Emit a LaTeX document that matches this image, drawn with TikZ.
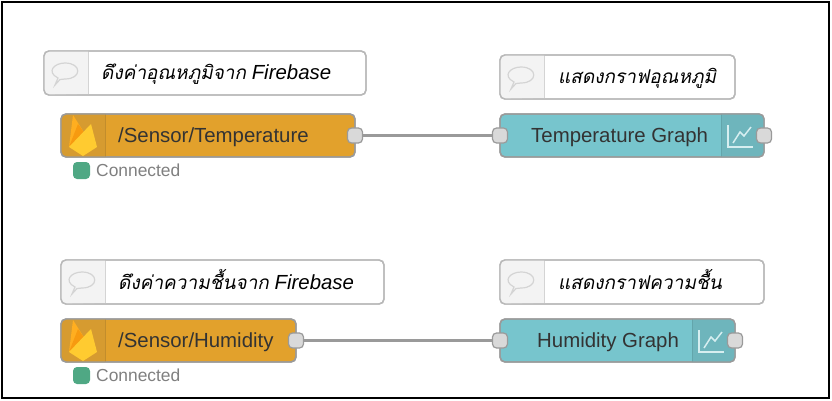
\documentclass[tikz,border=0pt]{standalone}
\usepackage{fontspec}
\setmainfont{Liberation Sans}
\newfontfamily\thaifont[Script=Thai,FakeSlant=0.2]{Loma}
\usetikzlibrary{positioning, calc}

\definecolor{firefill}{HTML}{E2A12C}
\definecolor{firetab}{HTML}{D69B30}
\definecolor{fireline}{HTML}{C28D2C}
\definecolor{graphfill}{HTML}{77C5CD}
\definecolor{graphtab}{HTML}{6EB5BC}
\definecolor{graphline}{HTML}{63A5AB}
\definecolor{edgegrey}{HTML}{9A9A9A}
\definecolor{notegrey}{HTML}{B8B8B8}
\definecolor{notetab}{HTML}{F3F3F3}
\definecolor{portfill}{HTML}{D9D9D9}
\definecolor{okgreen}{HTML}{4FA884}
\definecolor{flameyellow}{HTML}{FFCB30}
\definecolor{flameorange}{HTML}{FFAE20}
\definecolor{flamedark}{HTML}{F79A10}

\tikzset{
    flowbody/.style={draw=edgegrey, line width=1.4pt, rounded corners=5pt, outer sep=0pt, minimum height=43pt, inner sep=0pt},
    firebody/.style={flowbody, fill=firefill},
    graphbody/.style={flowbody, fill=graphfill},
    notebody/.style={flowbody, draw=notegrey, fill=white, minimum height=44pt},
    port/.style={draw=edgegrey, line width=1.2pt, fill=portfill, rounded corners=4pt, minimum size=15pt, inner sep=0pt, outer sep=0pt},
    wire/.style={draw=edgegrey, line width=3.4pt},
    flowtext/.style={inner sep=0pt, anchor=west, text height=16pt, text depth=2pt, font=\fontsize{20.4}{22}\selectfont, text=black!80},
    notetext/.style={flowtext, text=black},
    statusdot/.style={fill=okgreen, rounded corners=4pt, minimum size=17pt, inner sep=0pt, outer sep=0pt},
    statustext/.style={inner sep=0pt, anchor=west, font=\fontsize{17.4}{20}\selectfont, text=black!50},
    flame/.pic={
        \fill[flameorange] (8,33) -- (12,1) -- (24,20) -- cycle;
        \fill[flamedark] (8,33) -- (17,10) -- (24,20) -- cycle;
        \fill[flameyellow] (8,33) -- (30,10) -- (36,33) -- (22,42) -- cycle;
    },
    chart/.pic={
        \draw[white!70!graphfill, line width=1.5pt] (7,11) -- (7,33) -- (32,33);
        \draw[white!70!graphfill, line width=1.5pt] (12,29) -- (19,18) -- (23,22) -- (30,13);
    },
    bubble/.pic={
        \draw[notegrey!60, line width=1.2pt] (11,34) -- (14,27) .. controls (2,21) and (10,12) .. (21,12) .. controls (38,12) and (38,28) .. (21,28) .. controls (19,28) and (18,28) .. (16,28.5) -- cycle;
    }
}

% tab on the left or right end of a body: node, fill, divider and outline colour
\newcommand{\lefttab}[4]{
    \path[fill=#2] (#1.west) [rounded corners=5pt] -- (#1.north west) [sharp corners] -- ++(44,0) -- ++(0,43) [rounded corners=5pt] -- (#1.south west) -- cycle;
    \draw[#3, line width=1pt] ($(#1.north west)+(44,0)$) -- ($(#1.south west)+(44,0)$);
    \draw[#4, line width=1.4pt, rounded corners=5pt] (#1.north west) rectangle (#1.south east);
}
\newcommand{\righttab}[4]{
    \path[fill=#2] (#1.east) [rounded corners=5pt] -- (#1.north east) [sharp corners] -- ++(-43,0) -- ++(0,43) [rounded corners=5pt] -- (#1.south east) -- cycle;
    \draw[#3, line width=1pt] ($(#1.north east)+(-43,0)$) -- ($(#1.south east)+(-43,0)$);
    \draw[#4, line width=1.4pt, rounded corners=5pt] (#1.north east) rectangle (#1.south west);
}
\newcommand{\thaitext}[1]{{\thaifont\fontsize{19}{22}\selectfont #1}}

\begin{document}
\begin{tikzpicture}[x=1pt, y=-1pt, node distance=19pt]
\useasboundingbox (0,0) rectangle (832,401);
\fill[white] (0,0) rectangle (832,401);
\draw[black, line width=2pt] (2,2) rectangle (829,398);

% bodies
\node[firebody, minimum width=294pt, anchor=north west] (fire-temp) at (61,114) {};
\node[firebody, minimum width=235pt, anchor=north west] (fire-hum) at (61,319) {};
\node[graphbody, minimum width=264pt, anchor=north west] (graph-temp) at (500,114) {};
\node[graphbody, minimum width=235pt, anchor=north west] (graph-hum) at (500,319) {};

% comments
\node[notebody, minimum width=322pt, above = of fire-temp.north west, anchor=south west, xshift=-17pt] (note-fire-temp) {};
\node[notebody, minimum width=323pt, above = 15pt of fire-hum.north west, anchor=south west] (note-fire-hum) {};
\node[notebody, minimum width=235pt, above = 15pt of graph-temp.north west, anchor=south west] (note-graph-temp) {};
\node[notebody, minimum width=264pt, above = 15pt of graph-hum.north west, anchor=south west] (note-graph-hum) {};

\lefttab{fire-temp}{firetab}{fireline}{edgegrey}
\lefttab{fire-hum}{firetab}{fireline}{edgegrey}
\righttab{graph-temp}{graphtab}{graphline}{edgegrey}
\righttab{graph-hum}{graphtab}{graphline}{edgegrey}
\foreach \n in {note-fire-temp, note-fire-hum, note-graph-temp, note-graph-hum} {
    \lefttab{\n}{notetab}{notegrey!60}{notegrey}
    \pic at (\n.north west) {bubble};
}
\pic at (fire-temp.north west) {flame};
\pic at (fire-hum.north west) {flame};
\pic at ($(graph-temp.north east)+(-43,0)$) {chart};
\pic at ($(graph-hum.north east)+(-43,0)$) {chart};

% texts
\node[flowtext, right = 57pt of fire-temp.west] (text-fire-temp) {/Sensor/Temperature};
\node[flowtext, right = 57pt of fire-hum.west] (text-fire-hum) {/Sensor/Humidity};
\node[flowtext, right = 31pt of graph-temp.west] (text-graph-temp) {Temperature Graph};
\node[flowtext, right = 37pt of graph-hum.west] (text-graph-hum) {Humidity Graph};
\node[notetext, right = 57pt of note-fire-temp.west] (text-note-fire-temp) {\thaitext{ดึงค่าอุณหภูมิจาก} \textit{Firebase}};
\node[notetext, right = 57pt of note-fire-hum.west] (text-note-fire-hum) {\thaitext{ดึงค่าความชื้นจาก} \textit{Firebase}};
\node[notetext, right = 58pt of note-graph-temp.west] (text-note-graph-temp) {\thaitext{แสดงกราฟอุณหภูมิ}};
\node[notetext, right = 58pt of note-graph-hum.west] (text-note-graph-hum) {\thaitext{แสดงกราฟความชื้น}};

% status
\node[statusdot, below = 5pt of fire-temp.south west, anchor=north west, xshift=12pt] (dot-temp) {};
\node[statusdot, below = 5pt of fire-hum.south west, anchor=north west, xshift=12pt] (dot-hum) {};
\node[statustext, right = 6pt of dot-temp.east] (status-temp) {Connected};
\node[statustext, right = 6pt of dot-hum.east] (status-hum) {Connected};

% ports
\node[port] (out-fire-temp) at (fire-temp.east) {};
\node[port] (out-fire-hum) at (fire-hum.east) {};
\node[port] (in-graph-temp) at (graph-temp.west) {};
\node[port] (in-graph-hum) at (graph-hum.west) {};
\node[port] (out-graph-temp) at (graph-temp.east) {};
\node[port] (out-graph-hum) at (graph-hum.east) {};

\draw[wire] (out-fire-temp) -- (in-graph-temp);
\draw[wire] (out-fire-hum) -- (in-graph-hum);

\end{tikzpicture}
\end{document}
